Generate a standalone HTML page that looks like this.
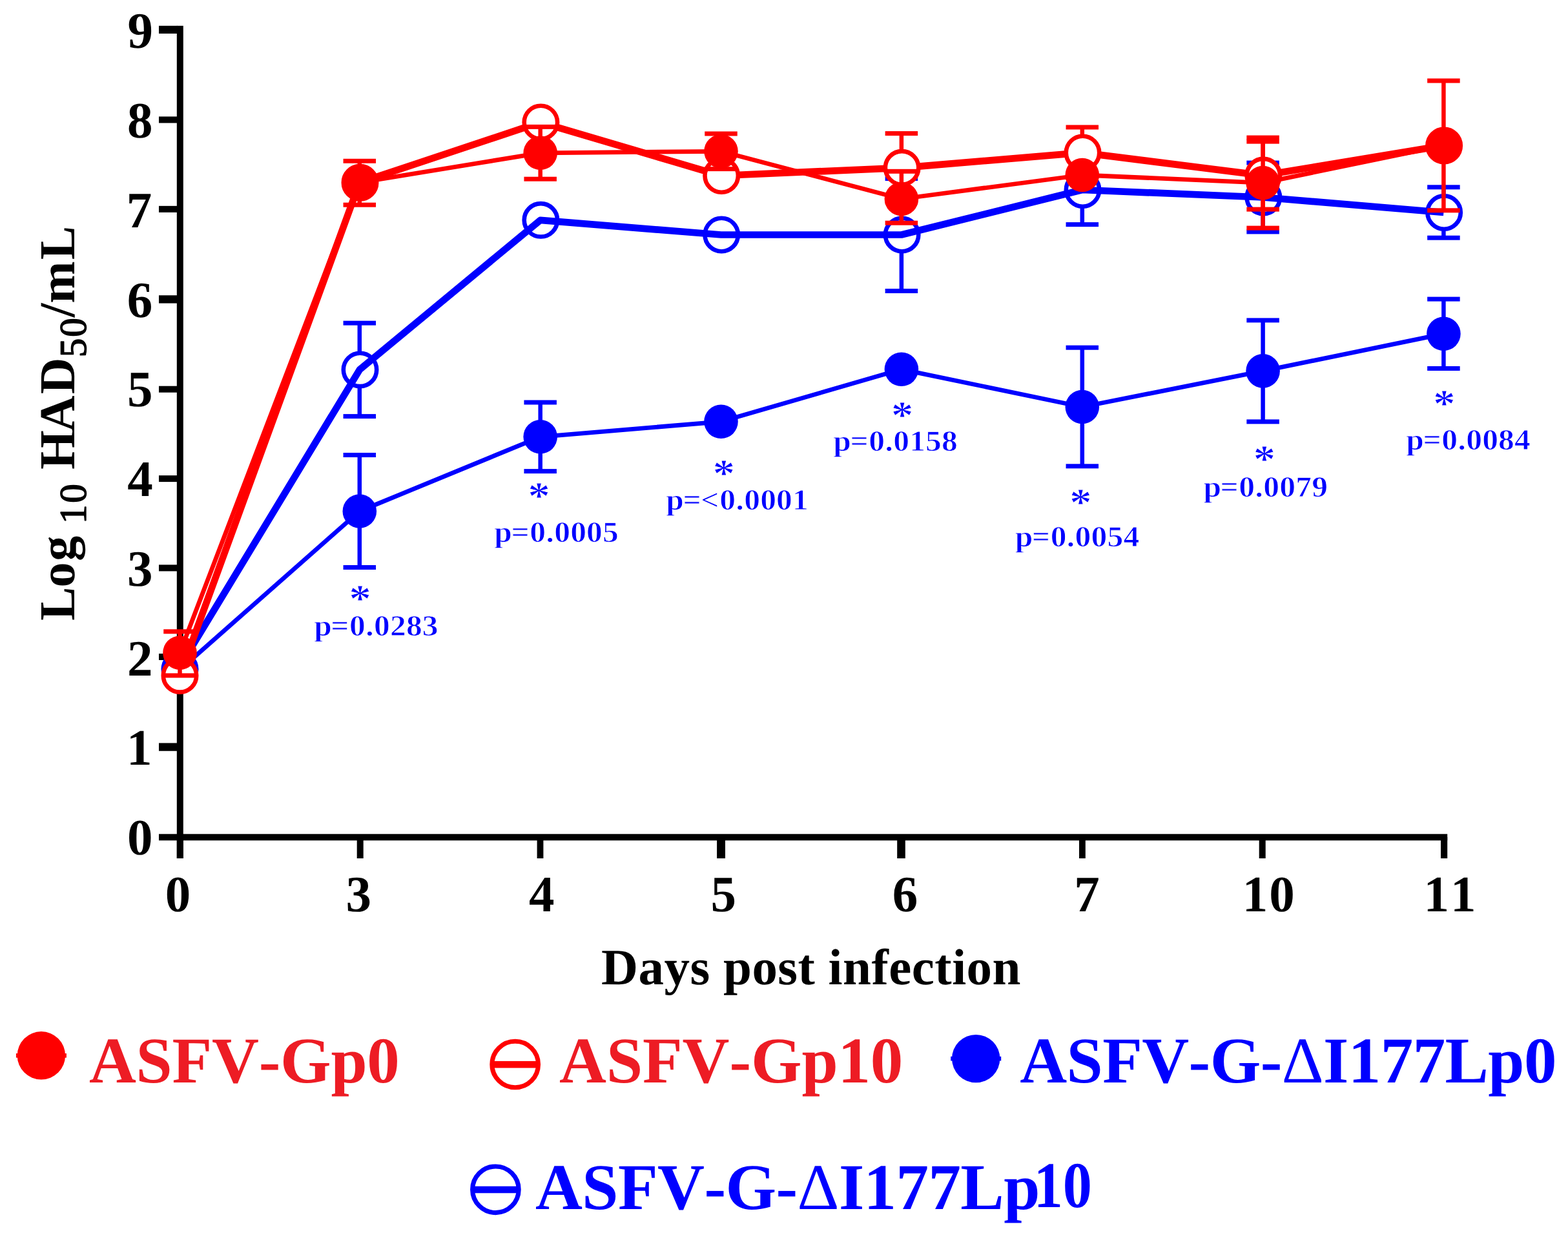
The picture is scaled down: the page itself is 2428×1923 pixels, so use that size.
<!DOCTYPE html>
<html lang="en">
<head>
<meta charset="utf-8">
<title>Growth kinetics</title>
<style>
html,body{margin:0;padding:0;background:#fff;}
body{width:2428px;height:1923px;overflow:hidden;}
svg{display:block;}
text{font-family:"Liberation Serif","Times New Roman",serif;font-kerning:none;text-rendering:geometricPrecision;white-space:pre;}
</style>
</head>
<body>
<svg width="2428" height="1923" viewBox="0 0 2428 1923">
<rect width="2428" height="1923" fill="#fff"/>
<g id="axes">
<rect x="273.8" y="39.9" width="10" height="1289.1" fill="#000"/>
<rect x="246" y="1291.3" width="1995.2" height="10" fill="#000"/>
<rect x="246" y="39.9" width="29" height="12.1" fill="#000"/>
<rect x="246" y="180.45" width="29" height="10" fill="#000"/>
<rect x="246" y="318.85" width="29" height="10" fill="#000"/>
<rect x="246" y="457.25" width="29" height="12.3" fill="#000"/>
<rect x="246" y="597.7" width="29" height="10" fill="#000"/>
<rect x="246" y="736.1" width="29" height="10" fill="#000"/>
<rect x="246" y="874.4" width="29" height="10" fill="#000"/>
<rect x="246" y="1012" width="29" height="10" fill="#000"/>
<rect x="246" y="1150.45" width="29" height="12.3" fill="#000"/>
<rect x="273.8" y="1296" width="10" height="33" fill="#000"/>
<rect x="552.7" y="1296" width="10" height="33" fill="#000"/>
<rect x="831.6" y="1296" width="9.8" height="33" fill="#000"/>
<rect x="1110.1" y="1296" width="12.9" height="33" fill="#000"/>
<rect x="1389.2" y="1296" width="12.6" height="33" fill="#000"/>
<rect x="1671" y="1296" width="9.8" height="33" fill="#000"/>
<rect x="1949.7" y="1296" width="10" height="33" fill="#000"/>
<rect x="2231" y="1296" width="10.2" height="33" fill="#000"/>
</g>
<g id="ticklabels">
<text x="197.05" y="1323.2" font-size="79" font-weight="700" fill="#000" letter-spacing="0.000">0</text>
<text x="195.93" y="1184.4" font-size="79" font-weight="700" fill="#000" letter-spacing="0.000">1</text>
<text x="197.09" y="1045.5" font-size="79" font-weight="700" fill="#000" letter-spacing="0.000">2</text>
<text x="196.91" y="907" font-size="79" font-weight="700" fill="#000" letter-spacing="0.000">3</text>
<text x="197.24" y="768.3" font-size="79" font-weight="700" fill="#000" letter-spacing="0.000">4</text>
<text x="196.91" y="628.9" font-size="79" font-weight="700" fill="#000" letter-spacing="0.000">5</text>
<text x="196.86" y="491" font-size="79" font-weight="700" fill="#000" letter-spacing="0.000">6</text>
<text x="195.76" y="352.3" font-size="79" font-weight="700" fill="#000" letter-spacing="0.000">7</text>
<text x="197.05" y="213" font-size="79" font-weight="700" fill="#000" letter-spacing="0.000">8</text>
<text x="197.4" y="73.7" font-size="79" font-weight="700" fill="#000" letter-spacing="0.000">9</text>
<text x="255.85" y="1411.2" font-size="79" font-weight="700" fill="#000" letter-spacing="0.000">0</text>
<text x="535.51" y="1411.2" font-size="79" font-weight="700" fill="#000" letter-spacing="0.000">3</text>
<text x="818.94" y="1411.2" font-size="79" font-weight="700" fill="#000" letter-spacing="0.000">4</text>
<text x="1100.51" y="1411.2" font-size="79" font-weight="700" fill="#000" letter-spacing="0.000">5</text>
<text x="1381.86" y="1411.2" font-size="79" font-weight="700" fill="#000" letter-spacing="0.000">6</text>
<text x="1663.16" y="1411.2" font-size="79" font-weight="700" fill="#000" letter-spacing="0.000">7</text>
<text x="1923.84" y="1411.2" font-size="79" font-weight="700" fill="#000" letter-spacing="2.000">10</text>
<text x="2204.38" y="1411.2" font-size="79" font-weight="700" fill="#000" letter-spacing="2.000">11</text>
</g>
<g id="blue-open">
<rect x="553.55" y="500.2" width="6.5" height="144.4" fill="#0000ff"/>
<rect x="531.55" y="496.7" width="50.5" height="7" fill="#0000ff"/>
<rect x="531.55" y="641.1" width="50.5" height="7" fill="#0000ff"/>
<rect x="1392.65" y="276.5" width="6.5" height="174" fill="#0000ff"/>
<rect x="1370.65" y="273" width="50.5" height="7" fill="#0000ff"/>
<rect x="1370.65" y="447" width="50.5" height="7" fill="#0000ff"/>
<rect x="1672.55" y="240.4" width="6.5" height="107.2" fill="#0000ff"/>
<rect x="1650.55" y="236.9" width="50.5" height="7" fill="#0000ff"/>
<rect x="1650.55" y="344.1" width="50.5" height="7" fill="#0000ff"/>
<rect x="1952.35" y="252.1" width="6.5" height="106.8" fill="#0000ff"/>
<rect x="1930.35" y="248.6" width="50.5" height="7" fill="#0000ff"/>
<rect x="1930.35" y="355.4" width="50.5" height="7" fill="#0000ff"/>
<rect x="2232.15" y="289.8" width="6.5" height="78.4" fill="#0000ff"/>
<rect x="2210.15" y="286.3" width="50.5" height="7" fill="#0000ff"/>
<rect x="2210.15" y="364.7" width="50.5" height="7" fill="#0000ff"/>
<circle cx="278.5" cy="1036" r="25.7" fill="#fff" stroke="#0000ff" stroke-width="6.6"/>
<circle cx="557.5" cy="572.4" r="25.7" fill="#fff" stroke="#0000ff" stroke-width="6.6"/>
<circle cx="837.4" cy="340.8" r="25.7" fill="#fff" stroke="#0000ff" stroke-width="6.6"/>
<circle cx="1117.2" cy="363.5" r="25.7" fill="#fff" stroke="#0000ff" stroke-width="6.6"/>
<circle cx="1396.6" cy="363.5" r="25.7" fill="#fff" stroke="#0000ff" stroke-width="6.6"/>
<circle cx="1676.5" cy="294" r="25.7" fill="#fff" stroke="#0000ff" stroke-width="6.6"/>
<circle cx="1956.3" cy="305.5" r="25.7" fill="#fff" stroke="#0000ff" stroke-width="6.6"/>
<circle cx="2236.1" cy="329" r="25.7" fill="#fff" stroke="#0000ff" stroke-width="6.6"/>
<polyline points="278.5,1032 556.8,572.4 836.7,340.8 1116.5,363.5 1395.9,363.5 1675.8,294 1955.6,305.5 2235.4,329" fill="none" stroke="#0000ff" stroke-width="10.7" stroke-linejoin="round" stroke-linecap="butt"/>
</g>
<g id="blue-filled">
<polyline points="278.5,1037 556.8,791.5 836.7,676.3 1116.5,652.8 1395.9,571.8 1675.8,630 1955.6,574.4 2235.4,516.8" fill="none" stroke="#0000ff" stroke-width="6.8" stroke-linejoin="round" stroke-linecap="butt"/>
<rect x="553.55" y="704.5" width="6.5" height="174" fill="#0000ff"/>
<rect x="531.55" y="701" width="50.5" height="7" fill="#0000ff"/>
<rect x="531.55" y="875" width="50.5" height="7" fill="#0000ff"/>
<rect x="833.45" y="623" width="6.5" height="106.6" fill="#0000ff"/>
<rect x="811.45" y="619.5" width="50.5" height="7" fill="#0000ff"/>
<rect x="811.45" y="726.1" width="50.5" height="7" fill="#0000ff"/>
<rect x="1672.55" y="538.2" width="6.5" height="183.6" fill="#0000ff"/>
<rect x="1650.55" y="534.7" width="50.5" height="7" fill="#0000ff"/>
<rect x="1650.55" y="718.3" width="50.5" height="7" fill="#0000ff"/>
<rect x="1952.35" y="495.9" width="6.5" height="157" fill="#0000ff"/>
<rect x="1930.35" y="492.4" width="50.5" height="7" fill="#0000ff"/>
<rect x="1930.35" y="649.4" width="50.5" height="7" fill="#0000ff"/>
<rect x="2232.15" y="463.1" width="6.5" height="107.4" fill="#0000ff"/>
<rect x="2210.15" y="459.6" width="50.5" height="7" fill="#0000ff"/>
<rect x="2210.15" y="567" width="50.5" height="7" fill="#0000ff"/>
<circle cx="278.5" cy="1037" r="26.3" fill="#0000ff"/>
<circle cx="556.8" cy="791.5" r="26.3" fill="#0000ff"/>
<circle cx="836.7" cy="676.3" r="26.3" fill="#0000ff"/>
<circle cx="1116.5" cy="652.8" r="26.3" fill="#0000ff"/>
<circle cx="1395.9" cy="571.8" r="26.3" fill="#0000ff"/>
<circle cx="1675.8" cy="630" r="26.3" fill="#0000ff"/>
<circle cx="1955.6" cy="574.4" r="26.3" fill="#0000ff"/>
<circle cx="2235.4" cy="516.8" r="26.3" fill="#0000ff"/>
</g>
<g id="red-open">
<polyline points="278.5,1045.9 556.8,282.7 836.7,189.4 1116.5,272 1395.9,259.8 1675.8,236.4 1955.6,271.6 2235.4,225.4" fill="none" stroke="#ff0000" stroke-width="10.7" stroke-linejoin="round" stroke-linecap="butt"/>
<rect x="1392.65" y="206.6" width="6.5" height="106.4" fill="#ff0000"/>
<rect x="1370.65" y="203.1" width="50.5" height="7" fill="#ff0000"/>
<rect x="1370.65" y="309.5" width="50.5" height="7" fill="#ff0000"/>
<rect x="1672.55" y="197" width="6.5" height="78.8" fill="#ff0000"/>
<rect x="1650.55" y="193.5" width="50.5" height="7" fill="#ff0000"/>
<rect x="1650.55" y="272.3" width="50.5" height="7" fill="#ff0000"/>
<rect x="1952.35" y="219.1" width="6.5" height="105" fill="#ff0000"/>
<rect x="1930.35" y="215.6" width="50.5" height="7" fill="#ff0000"/>
<rect x="1930.35" y="320.6" width="50.5" height="7" fill="#ff0000"/>
<circle cx="278.5" cy="1045.9" r="25.7" fill="#fff" stroke="#ff0000" stroke-width="6.6"/>
<circle cx="557.5" cy="282.7" r="25.7" fill="#fff" stroke="#ff0000" stroke-width="6.6"/>
<circle cx="837.4" cy="189.4" r="25.7" fill="#fff" stroke="#ff0000" stroke-width="6.6"/>
<circle cx="1117.2" cy="272" r="25.7" fill="#fff" stroke="#ff0000" stroke-width="6.6"/>
<circle cx="1396.6" cy="259.8" r="25.7" fill="#fff" stroke="#ff0000" stroke-width="6.6"/>
<circle cx="1676.5" cy="236.4" r="25.7" fill="#fff" stroke="#ff0000" stroke-width="6.6"/>
<circle cx="1956.3" cy="271.6" r="25.7" fill="#fff" stroke="#ff0000" stroke-width="6.6"/>
<circle cx="2236.1" cy="225.4" r="25.7" fill="#fff" stroke="#ff0000" stroke-width="6.6"/>
</g>
<g id="red-filled">
<polyline points="278.5,1010.7 556.8,282.7 836.7,236.8 1116.5,234.3 1395.9,308 1675.8,271 1955.6,283.1 2235.4,225.4" fill="none" stroke="#ff0000" stroke-width="6.8" stroke-linejoin="round" stroke-linecap="butt"/>
<rect x="275.25" y="977.8" width="6.5" height="68.1" fill="#ff0000"/>
<rect x="253.25" y="974.3" width="50.5" height="7" fill="#ff0000"/>
<rect x="253.25" y="1042.4" width="50.5" height="7" fill="#ff0000"/>
<rect x="553.55" y="249.3" width="6.5" height="67.9" fill="#ff0000"/>
<rect x="531.55" y="245.8" width="50.5" height="7" fill="#ff0000"/>
<rect x="531.55" y="313.7" width="50.5" height="7" fill="#ff0000"/>
<rect x="833.45" y="196.4" width="6.5" height="80.8" fill="#ff0000"/>
<rect x="811.45" y="192.9" width="50.5" height="7" fill="#ff0000"/>
<rect x="811.45" y="273.7" width="50.5" height="7" fill="#ff0000"/>
<rect x="1113.25" y="207" width="6.5" height="54.6" fill="#ff0000"/>
<rect x="1091.25" y="203.5" width="50.5" height="7" fill="#ff0000"/>
<rect x="1091.25" y="258.1" width="50.5" height="7" fill="#ff0000"/>
<rect x="1392.65" y="265.3" width="6.5" height="79.9" fill="#ff0000"/>
<rect x="1370.65" y="261.8" width="50.5" height="7" fill="#ff0000"/>
<rect x="1370.65" y="341.7" width="50.5" height="7" fill="#ff0000"/>
<rect x="1952.35" y="213.1" width="6.5" height="140" fill="#ff0000"/>
<rect x="1930.35" y="209.6" width="50.5" height="7" fill="#ff0000"/>
<rect x="1930.35" y="349.6" width="50.5" height="7" fill="#ff0000"/>
<rect x="2232.15" y="125" width="6.5" height="200.8" fill="#ff0000"/>
<rect x="2210.15" y="121.5" width="50.5" height="7" fill="#ff0000"/>
<rect x="2210.15" y="322.3" width="50.5" height="7" fill="#ff0000"/>
<circle cx="278.5" cy="1010.7" r="26.3" fill="#ff0000"/>
<circle cx="556.8" cy="282.7" r="26.3" fill="#ff0000"/>
<circle cx="836.7" cy="236.8" r="26.3" fill="#ff0000"/>
<circle cx="1116.5" cy="234.3" r="26.3" fill="#ff0000"/>
<circle cx="1395.9" cy="308" r="26.3" fill="#ff0000"/>
<circle cx="1675.8" cy="271" r="26.3" fill="#ff0000"/>
<circle cx="1955.6" cy="283.1" r="26.3" fill="#ff0000"/>
<circle cx="2235.4" cy="225.4" r="26.3" fill="#ff0000"/>
</g>
<g id="pvalues">
<text transform="translate(487.2,984.3) scale(1.09,1)" x="-0.99 22.94 49.43 72.52 84.24 107.13 130.02 152.91" y="0" font-size="45.5" font-weight="700" fill="#0000ff" stroke="#fff" stroke-width="0.9">p=0.0283</text>
<text transform="translate(540.51,947.01) scale(1.13,1)" font-size="60.5" font-weight="700" fill="#0000ff" stroke="#fff" stroke-width="0.8">*</text>
<text transform="translate(766.4,838.9) scale(1.09,1)" x="-0.99 22.94 49.43 72.52 84.24 107.13 130.02 152.91" y="0" font-size="45.5" font-weight="700" fill="#0000ff" stroke="#fff" stroke-width="0.9">p=0.0005</text>
<text transform="translate(817.41,788.31) scale(1.13,1)" font-size="60.5" font-weight="700" fill="#0000ff" stroke="#fff" stroke-width="0.8">*</text>
<text transform="translate(1032.4,788.5) scale(1.09,1)" x="-0.99 22.94 48.54 75.12 98.21 109.93 132.82 155.71 178.6" y="0" font-size="45.5" font-weight="700" fill="#0000ff" stroke="#fff" stroke-width="0.9">p=&lt;0.0001</text>
<text transform="translate(1103.71,753.01) scale(1.13,1)" font-size="60.5" font-weight="700" fill="#0000ff" stroke="#fff" stroke-width="0.8">*</text>
<text transform="translate(1291.4,697.9) scale(1.09,1)" x="-0.99 22.94 49.43 72.52 84.24 107.13 130.02 152.91" y="0" font-size="45.5" font-weight="700" fill="#0000ff" stroke="#fff" stroke-width="0.9">p=0.0158</text>
<text transform="translate(1380.11,662.81) scale(1.13,1)" font-size="60.5" font-weight="700" fill="#0000ff" stroke="#fff" stroke-width="0.8">*</text>
<text transform="translate(1572.8,846.4) scale(1.09,1)" x="-0.99 22.94 49.43 72.52 84.24 107.13 130.02 152.91" y="0" font-size="45.5" font-weight="700" fill="#0000ff" stroke="#fff" stroke-width="0.9">p=0.0054</text>
<text transform="translate(1656.31,798.31) scale(1.13,1)" font-size="60.5" font-weight="700" fill="#0000ff" stroke="#fff" stroke-width="0.8">*</text>
<text transform="translate(1864.5,768.5) scale(1.09,1)" x="-0.99 22.94 49.43 72.52 84.24 107.13 130.02 152.91" y="0" font-size="45.5" font-weight="700" fill="#0000ff" stroke="#fff" stroke-width="0.9">p=0.0079</text>
<text transform="translate(1940.71,730.71) scale(1.13,1)" font-size="60.5" font-weight="700" fill="#0000ff" stroke="#fff" stroke-width="0.8">*</text>
<text transform="translate(2178.4,695.7) scale(1.09,1)" x="-0.99 22.94 49.43 72.52 84.24 107.13 130.02 152.91" y="0" font-size="45.5" font-weight="700" fill="#0000ff" stroke="#fff" stroke-width="0.9">p=0.0084</text>
<text transform="translate(2219.21,645.01) scale(1.13,1)" font-size="60.5" font-weight="700" fill="#0000ff" stroke="#fff" stroke-width="0.8">*</text>
</g>
<g id="titles">
<text x="931.01" y="1523.5" font-size="79" font-weight="700" fill="#000" letter-spacing="0.483" >Days post infection</text>
<text transform="translate(115.1,959.3) rotate(-90)" font-size="78" font-weight="700"><tspan x="-1.33 49.73 90.44" y="0">Log</tspan> <tspan x="148.41 180.65" y="18.3" font-size="59" font-weight="400" stroke="#000" stroke-width="1.4" stroke-linejoin="round">10</tspan> <tspan x="232.47 290.54 349.43" y="0">HAD</tspan><tspan x="406.07 437.55" y="18.3" font-size="59" font-weight="400" stroke="#000" stroke-width="1.4" stroke-linejoin="round">50</tspan><tspan x="467.96 489.91 557.37" y="0">/mL</tspan></text>
</g>
<g id="legend">
<rect x="24.9" y="1630.95" width="78" height="6.7" fill="#ff0000"/>
<circle cx="63.9" cy="1634.3" r="37.2" fill="#ff0000"/>
<text x="137.91" y="1675.5" font-size="101" font-weight="700" fill="#ed1c24" letter-spacing="-0.240">ASFV-Gp0</text>
<circle cx="797.7" cy="1648.0" r="35.8" fill="#fff" stroke="#ff0000" stroke-width="7.1"/>
<rect x="759.7" y="1642.9" width="76" height="10.6" fill="#ff0000"/>
<text x="866.11" y="1675.5" font-size="101" font-weight="700" fill="#ed1c24" letter-spacing="-0.110">ASFV-Gp10</text>
<rect x="1472.2" y="1635.75" width="78" height="6.7" fill="#0000ff"/>
<circle cx="1511.2" cy="1639.1" r="37.2" fill="#0000ff"/>
<text x="1579.21" y="1675.8" font-size="101" font-weight="700" fill="#0000ff" letter-spacing="-0.581">ASFV-G-<tspan font-weight="400">Δ</tspan>I177Lp0</text>
<circle cx="767.4" cy="1841.8" r="35.8" fill="#fff" stroke="#0000ff" stroke-width="7.1"/>
<rect x="729.4" y="1836.7" width="76" height="10.6" fill="#0000ff"/>
<text x="829.01" y="1871.5" font-size="101" font-weight="700" fill="#0000ff" letter-spacing="-0.581">ASFV-G-<tspan font-weight="400">Δ</tspan>I177Lp<tspan x="1600.67" y="1869.2" letter-spacing="0" textLength="90.27" lengthAdjust="spacingAndGlyphs">10</tspan></text>
</g>
</svg>
</body>
</html>
